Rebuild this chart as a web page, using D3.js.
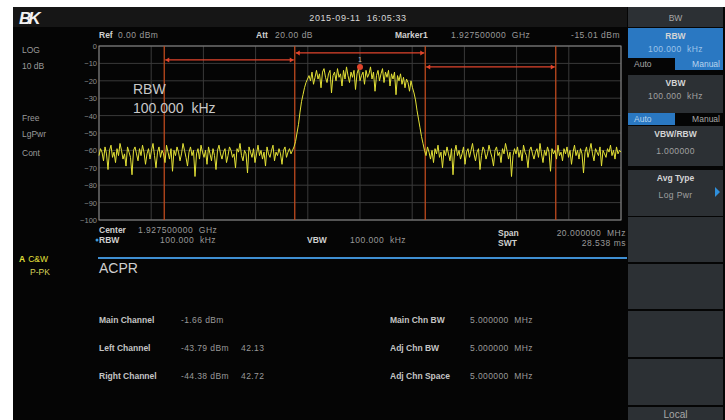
<!DOCTYPE html>
<html>
<head>
<meta charset="utf-8">
<script src="https://cdn.jsdelivr.net/npm/d3@7"></script>
<style>
  body { margin: 0; background: #fff; }
  svg { display: block; font-family: "Liberation Sans", "DejaVu Sans", sans-serif; }
</style>
</head>
<body>
<svg id="chart" width="725" height="420"></svg>
<script>
// level axis, dBm
const yTicks = [0, -10, -20, -30, -40, -50, -60, -70, -80, -90, -100];

// sweep trace in dBm (left adj. / main / right adj. region)
const traceLeft = [
  -63,-59,-61,-66,-58,-62,-71,-60,-57,-64,
  -61,-67,-59,-63,-56,-60,-65,-62,-69,-58,
  -61,-64,-74,-60,-58,-62,-66,-59,-63,-57,
  -61,-68,-62,-59,-65,-60,-56,-63,-70,-61,
  -58,-64,-60,-62,-67,-57,-61,-65,-59,-72,
  -60,-63,-58,-61,-66,-62,-56,-60,-64,-69,
  -61,-58,-63,-60,-75,-62,-59,-65,-57,-61,
  -64,-60,-68,-58,-62,-66,-59,-63,-71,-60,
  -57,-62,-65,-61,-59,-67,-63,-58,-60,-64,
  -62,-70,-59,-61,-56,-63,-66,-60,-62,-73,
  -58,-61,-64,-59,-67,-62,-57,-63,-60,-65,
  -61,-69,-58,-62,-64,-60,-57,-66,-61,-63,
  -59,-62,-68,-60,-58,-64,-61,-59,-62,-60
];
const traceMain = [
  -58,-55,-50,-45,-38,-32,-28,-24,-21,-19,
  -17,-20,-15,-22,-18,-14,-19,-16,-24,-15,
  -13,-18,-21,-16,-14,-27,-17,-15,-20,-13,
  -18,-16,-23,-14,-19,-12,-17,-21,-15,-18,
  -14,-25,-16,-13,-20,-17,-15,-22,-14,-18,
  -16,-12,-19,-15,-26,-17,-14,-20,-16,-13,
  -21,-15,-18,-14,-23,-16,-19,-15,-28,-17,
  -20,-16,-22,-18,-24,-19,-21,-26,-20,
  -24,-27,-31,-37,-42,-47,-52,-56,-60
];
const traceRight = [
  -63,-58,-61,-65,-60,-67,-59,-62,-57,-64,
  -61,-70,-60,-63,-58,-62,-66,-59,-74,-61,
  -57,-63,-60,-65,-62,-58,-68,-61,-59,-64,
  -60,-56,-62,-66,-61,-59,-71,-63,-58,-60,
  -65,-62,-57,-61,-64,-69,-60,-58,-63,-61,
  -67,-59,-62,-56,-60,-65,-61,-75,-63,-59,
  -62,-58,-64,-60,-66,-57,-61,-63,-70,-60,
  -58,-62,-65,-61,-59,-64,-56,-62,-67,-60,
  -63,-58,-61,-72,-59,-62,-60,-65,-57,-63,
  -61,-66,-59,-62,-58,-64,-60,-68,-61,-57,
  -63,-60,-65,-59,-62,-73,-61,-58,-64,-60,
  -56,-62,-66,-59,-61,-63,-58,-69,-60,-62,
  -64,-59,-61,-57,-63,-60,-65,-58,-62,-60,-61
];

// channel setup, MHz offset from center
const channelNames = ["Left", "Main", "Right"];
const channelFrom = [-7.5, -2.5, 2.5];
const channelTo = [-2.5, 2.5, 7.5];
const channelBarLevel = [-8, -4, -12];
const markerFreq = 0;
const markerLevel = -12;

// ACPR result table
const resultLabels = ["Main Channel", "Left Channel", "Right Channel"];
const resultPower = ["-1.66 dBm", "-43.79 dBm", "-44.38 dBm"];
const resultRatio = ["", "42.13", "42.72"];
const setupLabels = ["Main Chn BW", "Adj Chn BW", "Adj Chn Space"];
const setupValues = ["5.000000  MHz", "5.000000  MHz", "5.000000  MHz"];

// softkey menu
const menuItems = [
  { title: "RBW", value: "100.000  kHz", active: true, toggle: "Manual" },
  { title: "VBW", value: "100.000  kHz", active: false, toggle: "Auto" },
  { title: "VBW/RBW", value: "1.000000" },
  { title: "Avg Type", value: "Log Pwr", more: true },
  {}, {}, {}
];

const trace = traceLeft.concat(traceMain, traceRight);

const svg = d3.select("#chart");
const plot = { left: 99, right: 621, top: 46, bottom: 220 };

const x = d3.scaleLinear().domain([-10, 10]).range([plot.left, plot.right]);
const y = d3.scaleLinear().domain([-100, 0]).range([plot.bottom, plot.top]);
const idx = d3.scaleLinear().domain([0, trace.length - 1]).range([-10, 10]);

const blue = "#2a78c2";

// screen background
svg.append("rect").attr("x", 13).attr("y", 7).attr("width", 712).attr("height", 413).attr("fill", "#050505");
svg.append("rect").attr("x", 13).attr("y", 7).attr("width", 614).attr("height", 20).attr("fill", "#161616");

svg.append("text").attr("x", 19).attr("y", 24)
    .attr("fill", "#f2f2f2").attr("font-size", 17).attr("font-weight", "bold")
    .attr("font-style", "italic").attr("letter-spacing", -3).text("BK");
svg.append("text").attr("x", 358).attr("y", 21).attr("text-anchor", "middle")
    .attr("fill", "#d8d8d8").attr("font-size", 9).attr("letter-spacing", 0.6)
    .attr("xml:space", "preserve").text("2015-09-11  16:05:33");

// left status column
[["LOG", 53], ["10 dB", 69], ["Free", 121], ["LgPwr", 137], ["Cont", 156]].forEach(([t, yy]) => {
    svg.append("text").attr("x", 22).attr("y", yy).attr("fill", "#9a9a9a").attr("font-size", 8.5).text(t);
});
svg.append("text").attr("x", 19).attr("y", 262).attr("font-size", 8.5).attr("fill", "#e6e23c")
    .html('<tspan font-weight="bold">A</tspan><tspan dx="3">C&amp;W</tspan>');
svg.append("text").attr("x", 30).attr("y", 275).attr("font-size", 8.5).attr("fill", "#d8d45a").text("P-PK");

// label + value pair, value placed at its own x
function infoPair(xx, yy, label, vx, value) {
    svg.append("text").attr("x", xx).attr("y", yy).attr("font-size", 8.5)
        .attr("fill", "#cfcfcf").attr("font-weight", "bold").text(label);
    if (value) {
        svg.append("text").attr("x", vx).attr("y", yy).attr("font-size", 8.5)
            .attr("fill", "#9a9a9a").attr("letter-spacing", 0.5)
            .attr("xml:space", "preserve").text(value);
    }
}
infoPair(99, 38, "Ref", 118, "0.00 dBm");
infoPair(256, 38, "Att", 275, "20.00 dB");
infoPair(395, 38, "Marker1", 451, "1.927500000  GHz");
svg.append("text").attr("x", 620).attr("y", 38).attr("text-anchor", "end").attr("font-size", 8.5)
    .attr("fill", "#9a9a9a").attr("letter-spacing", 0.5).text("-15.01 dBm");

// grid
const g = svg.append("g");
g.selectAll(".hgrid").data(yTicks).enter().append("line")
    .attr("x1", plot.left).attr("x2", plot.right)
    .attr("y1", d => y(d)).attr("y2", d => y(d))
    .attr("stroke", "#3a3a3a").attr("stroke-width", 1);
g.selectAll(".vgrid").data(d3.range(-10, 11, 2)).enter().append("line")
    .attr("y1", plot.top).attr("y2", plot.bottom)
    .attr("x1", d => x(d)).attr("x2", d => x(d))
    .attr("stroke", "#3a3a3a").attr("stroke-width", 1);
g.append("rect").attr("x", plot.left).attr("y", plot.top)
    .attr("width", plot.right - plot.left).attr("height", plot.bottom - plot.top)
    .attr("fill", "none").attr("stroke", "#8a8a8a").attr("stroke-width", 1);

const yAxis = d3.axisLeft(y).tickValues(yTicks).tickSize(0).tickPadding(2);
const ya = svg.append("g").attr("transform", `translate(${plot.left},0)`).call(yAxis);
ya.select(".domain").remove();
ya.selectAll("text").attr("fill", "#8f8f8f").attr("font-size", 7.5)
    .attr("font-family", "Liberation Sans, sans-serif");

// channel boundaries
const edges = Array.from(new Set(channelFrom.concat(channelTo)));
g.selectAll(".edge").data(edges).enter().append("line")
    .attr("x1", d => x(d)).attr("x2", d => x(d))
    .attr("y1", plot.top).attr("y2", plot.bottom)
    .attr("stroke", "#bd4a1e").attr("stroke-width", 1.3);

// big RBW annotation
svg.append("text").attr("x", 133).attr("y", 94).attr("fill", "#c8c8c8").attr("font-size", 14).text("RBW");
svg.append("text").attr("x", 133).attr("y", 113).attr("fill", "#c8c8c8").attr("font-size", 14)
    .attr("xml:space", "preserve").text("100.000  kHz");

// trace
const line = d3.line().x((d, i) => x(idx(i))).y(d => y(d));
svg.append("path").datum(trace).attr("d", line)
    .attr("fill", "none").attr("stroke", "#e4e236").attr("stroke-width", 1)
    .attr("stroke-linejoin", "round");

// channel power bars
const red = "#e0452c";
channelNames.forEach((n, i) => {
    const x1 = x(channelFrom[i]) + 1, x2 = x(channelTo[i]) - 1, yy = y(channelBarLevel[i]);
    svg.append("line").attr("x1", x1).attr("x2", x2).attr("y1", yy).attr("y2", yy)
        .attr("stroke", red).attr("stroke-width", 1.2);
    svg.append("path").attr("d", `M${x1},${yy}l4,-2.5v5z`).attr("fill", red);
    svg.append("path").attr("d", `M${x2},${yy}l-4,-2.5v5z`).attr("fill", red);
});

// marker
svg.append("circle").attr("cx", x(markerFreq)).attr("cy", y(markerLevel)).attr("r", 3).attr("fill", "#e0452c");
svg.append("text").attr("x", x(markerFreq)).attr("y", y(markerLevel) - 5).attr("text-anchor", "middle")
    .attr("fill", "#bbbbbb").attr("font-size", 7).text("1");

// footer under grid
infoPair(99, 233, "Center", 138, "1.927500000  GHz");
svg.append("circle").attr("cx", 97).attr("cy", 240).attr("r", 1.5).attr("fill", "#3a9ae0");
infoPair(99, 243, "RBW", 160, "100.000  kHz");
infoPair(307, 243, "VBW", 350, "100.000  kHz");
infoPair(498, 236, "Span");
infoPair(498, 246, "SWT");
svg.append("text").attr("x", 626).attr("y", 236).attr("text-anchor", "end").attr("font-size", 8.5)
    .attr("fill", "#9a9a9a").attr("letter-spacing", 0.5).attr("xml:space", "preserve").text("20.000000  MHz");
svg.append("text").attr("x", 626).attr("y", 246).attr("text-anchor", "end").attr("font-size", 8.5)
    .attr("fill", "#9a9a9a").attr("letter-spacing", 0.5).text("28.538 ms");

svg.append("line").attr("x1", 98).attr("x2", 627).attr("y1", 258).attr("y2", 258)
    .attr("stroke", "#3f8fd2").attr("stroke-width", 2);
svg.append("text").attr("x", 99).attr("y", 273).attr("fill", "#d0d0d0").attr("font-size", 14).text("ACPR");

// result table
const rowY = d3.scalePoint().domain(resultLabels).range([323, 379]);
resultLabels.forEach((lab, i) => {
    const yy = rowY(lab);
    svg.append("text").attr("x", 99).attr("y", yy).attr("fill", "#c4c4c4").attr("font-size", 8.5)
        .attr("font-weight", "bold").text(lab);
    svg.append("text").attr("x", 181).attr("y", yy).attr("fill", "#9a9a9a").attr("font-size", 8.5)
        .attr("letter-spacing", 0.4).text(resultPower[i]);
    svg.append("text").attr("x", 241).attr("y", yy).attr("fill", "#9a9a9a").attr("font-size", 8.5)
        .attr("letter-spacing", 0.4).text(resultRatio[i]);
    svg.append("text").attr("x", 390).attr("y", yy).attr("fill", "#c4c4c4").attr("font-size", 8.5)
        .attr("font-weight", "bold").text(setupLabels[i]);
    svg.append("text").attr("x", 470).attr("y", yy).attr("fill", "#9a9a9a").attr("font-size", 8.5)
        .attr("letter-spacing", 0.4).attr("xml:space", "preserve").text(setupValues[i]);
});

// softkey panel
const panel = svg.append("g");
const px = 628, pw = 95;
panel.append("rect").attr("x", px).attr("y", 7).attr("width", pw).attr("height", 20).attr("fill", "#2c3034");
panel.append("text").attr("x", px + pw / 2).attr("y", 21).attr("text-anchor", "middle")
    .attr("fill", "#a8a8a8").attr("font-size", 8.5).text("BW");

const boxTops = [28, 75, 126, 170, 217, 264, 311];
const boxBottoms = [58, 113, 166, 216, 262, 309, 357];
menuItems.forEach((m, i) => {
    const top = boxTops[i], h = boxBottoms[i] - top;
    panel.append("rect").attr("x", px).attr("y", top).attr("width", pw).attr("height", h)
        .attr("fill", m.active ? blue : "#2c3034");
    if (m.title) {
        panel.append("text").attr("x", px + pw / 2).attr("y", top + 11).attr("text-anchor", "middle")
            .attr("fill", "#d4d4d4").attr("font-size", 8.5).attr("font-weight", "bold").text(m.title);
        panel.append("text").attr("x", px + pw / 2).attr("y", top + (m.toggle ? 24 : 28)).attr("text-anchor", "middle")
            .attr("fill", m.active ? "#9cc4ea" : "#a0a0a0").attr("font-size", 8.5)
            .attr("letter-spacing", 0.4).attr("xml:space", "preserve").text(m.value);
    }
    if (m.toggle) {
        const ty = boxBottoms[i];
        ["Auto", "Manual"].forEach((t, k) => {
            const on = t === m.toggle;
            panel.append("rect").attr("x", px + k * 47).attr("y", ty).attr("width", k ? 48 : 47).attr("height", 12)
                .attr("fill", on ? blue : "#050505");
            panel.append("text").attr("x", px + k * 47 + (k ? 45 : 6)).attr("y", ty + 9)
                .attr("text-anchor", k ? "end" : "start")
                .attr("fill", on ? "#b8d4ee" : "#a8a8a8").attr("font-size", 8.5).text(t);
        });
    }
    if (m.more) {
        panel.append("path").attr("d", `M${px + pw - 8},${top + 17}l5,5l-5,5z`).attr("fill", "#2f8fdc");
    }
});
panel.append("rect").attr("x", px).attr("y", 359).attr("width", pw).attr("height", 46).attr("fill", "#2c3034");
panel.append("rect").attr("x", px).attr("y", 407).attr("width", pw).attr("height", 13).attr("fill", "#2c3034");
panel.append("text").attr("x", px + pw / 2).attr("y", 418).attr("text-anchor", "middle")
    .attr("fill", "#a8a8a8").attr("font-size", 10).text("Local");
</script>
</body>
</html>
